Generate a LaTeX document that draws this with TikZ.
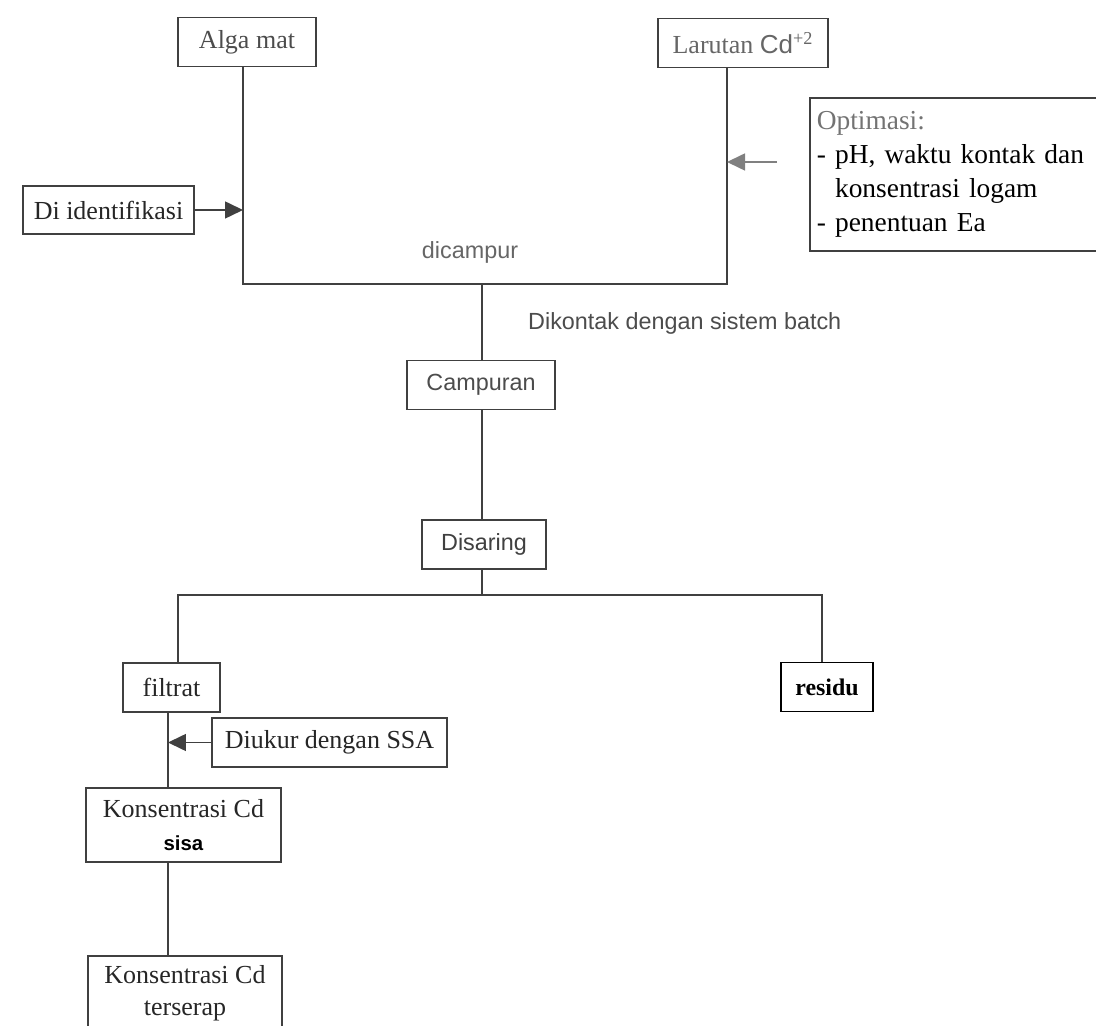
\documentclass[tikz,border=0pt]{standalone}
\usepackage{fontspec}
\setmainfont{Liberation Serif}
\setsansfont{Liberation Sans}
\usetikzlibrary{arrows.meta}
\usetikzlibrary{positioning}

\begin{document}
\begin{tikzpicture}[
      x=0.02cm, y=-0.02cm,
      box/.style ={rectangle, draw=black!75, line width=0.9pt, inner sep=0pt, minimum height=0.98cm, align=center, text=black!85, font=\fontsize{14.8}{18.5}\selectfont},
      sbox/.style ={box, text=black!70, font=\fontsize{13.3}{16}\sffamily},
      lbl/.style ={text=black!60, font=\fontsize{13.3}{16}\sffamily},
      line/.style ={draw=black!75, line width=0.9pt},
      arr/.style ={line, -{Stealth[inset=0pt, length=3.6mm, width=3.4mm]}}
    ]
    \useasboundingbox (0,0) rectangle (1096,1026);
    \node [box, minimum width=2.76cm, text=black!70] (alga) at (247,42) {Alga mat} ;
    \node [box, minimum width=3.4cm, text=black!60] (larutan) at (743,43) {Larutan {\sffamily Cd}\textsuperscript{+2}} ;
    \node [box, minimum width=3.42cm, minimum height=0.96cm] (identifikasi) at (108.5,210) {Di identifikasi} ;
    \node [box, anchor=north west, text width=6.0cm, inner xsep=0.14cm, minimum height=3.06cm, align=left, text=black, font=\fontsize{15.6}{19.3}\selectfont] (optimasi) at (809,97)
      {\textcolor{black!55}{Optimasi:}\\- pH, waktu kontak dan\\\phantom{- }konsentrasi logam\\- penentuan Ea} ;
    \node [lbl] (dicampur) at (470,252) {dicampur} ;
    \node [lbl, anchor=west, text=black!70] (batch) at (522,323) {Dikontak dengan sistem batch} ;
    \node [sbox, minimum width=2.96cm] (campuran) at (481,385) {Campuran} ;
    \node [sbox, minimum width=2.48cm, text=black!75] (disaring) at (484,544.5) {Disaring} ;
    \node [box, minimum width=1.94cm] (filtrat) at (171.5,687.5) {filtrat} ;
    \node [box, minimum width=1.84cm, draw=black, text=black, font=\fontsize{13.6}{16}\selectfont\bfseries] (residu) at (827,687) {residu} ;
    \node [box, minimum width=4.7cm] (diukur) at (329.5,742.5) {Diukur dengan SSA} ;
    \node [box, minimum width=3.9cm, minimum height=1.48cm] (sisa) at (183.5,825) {Konsentrasi Cd\\{\sffamily\bfseries\color{black}\fontsize{11.6}{14}\selectfont sisa}} ;
    \node [box, minimum width=3.88cm, minimum height=1.48cm] (terserap) at (185,993) {Konsentrasi Cd\\terserap} ;

    \coordinate (mixL) at (243,284) ;
    \coordinate (mixR) at (727,284) ;
    \coordinate (mixC) at (482,284) ;
    \coordinate (splitL) at (178,595) ;
    \coordinate (splitR) at (822,595) ;
    \coordinate (col) at (168,742.5) ;
    \coordinate (optin) at (727,162) ;

    \draw [line] (alga.south -| mixL) -- (mixL) -- (mixR) -- (larutan.south -| mixR) ;
    \draw [arr] (identifikasi.east) -- (identifikasi.east -| mixL) ;
    \draw [arr, draw=black!50, shorten <=0.64cm] (optimasi.west |- optin) -- (optin) ;
    \draw [line] (mixC) -- (campuran.north -| mixC) ;
    \draw [line] (campuran.south -| mixC) -- (disaring.north -| mixC) ;
    \draw [line] (disaring.south -| mixC) -- (mixC |- splitL) ;
    \draw [line] (filtrat.north -| splitL) -- (splitL) -- (splitR) -- (residu.north -| splitR) ;
    \draw [line] (filtrat.south -| col) -- (sisa.north -| col) ;
    \draw [arr] (diukur.west) -- (col) ;
    \draw [line] (sisa.south -| col) -- (terserap.north -| col) ;
  \end{tikzpicture}
\end{document}
